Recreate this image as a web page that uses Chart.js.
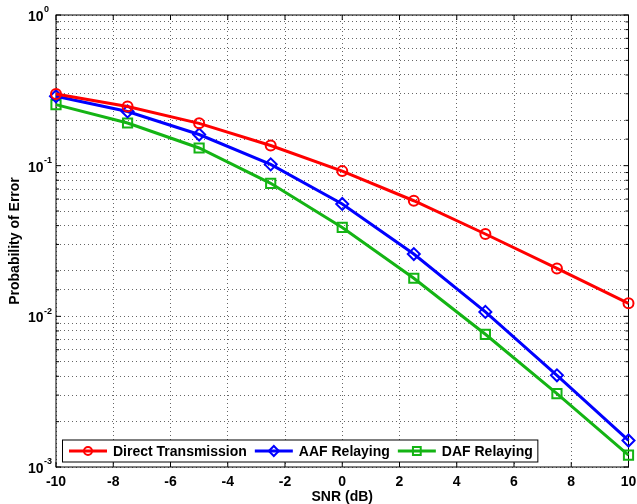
<!DOCTYPE html>
<html>
<head>
<meta charset="utf-8">
<script src="https://cdn.jsdelivr.net/npm/chart.js@4.4.1/dist/chart.umd.min.js"></script>
<style>
    html, body { margin: 0; padding: 0; background: #fff; }
    canvas { display: block; }
</style>
</head>
<body>
<canvas id="myChart" width="637" height="504"></canvas>
<script>
/* data */
const snr = [-10, -7.5, -5, -2.5, 0, 2.5, 5, 7.5, 10];
const directTransmission = [0.299, 0.247, 0.191, 0.136, 0.092, 0.0585, 0.0352, 0.0208, 0.0122];
const aafRelaying = [0.289, 0.229, 0.161, 0.102, 0.0557, 0.0259, 0.0107, 0.00406, 0.0015];
const dafRelaying = [0.254, 0.192, 0.131, 0.0764, 0.0389, 0.0179, 0.0076, 0.00307, 0.0012];
const seriesNames = ["Direct Transmission", "AAF Relaying", "DAF Relaying"];
const xTicks = [-10, -8, -6, -4, -2, 0, 2, 4, 6, 8, 10];
const yDecades = [0.001, 0.01, 0.1, 1];
const yDecadeExponents = ["-3", "-2", "-1", "0"];

const FONT = '"Liberation Sans", Arial, Helvetica, sans-serif';
Chart.defaults.font.family = FONT;
Chart.defaults.color = "#000";

const toPoints = (values) => values.map((v, i) => ({ x: snr[i], y: v }));

const series = (label, values, color, style, radius) => ({
    label: label,
    data: toPoints(values),
    borderColor: color,
    backgroundColor: "rgba(255,255,255,0)",
    borderWidth: 3,
    pointStyle: style,
    pointRadius: radius,
    pointBorderWidth: 2,
    pointBackgroundColor: "rgba(255,255,255,0)",
    pointBorderColor: color,
    tension: 0,
    clip: false,
});

/* matlab like box, inner ticks and y labels with exponents */
const axesBox = {
    id: "axesBox",
    beforeDatasetsDraw(chart) {
        const ctx = chart.ctx;
        const area = chart.chartArea;
        const xs = chart.scales.x;
        const ys = chart.scales.y;
        ctx.save();
        ctx.strokeStyle = "#000";
        ctx.lineWidth = 1;
        ctx.strokeRect(area.left, area.top, area.right - area.left, area.bottom - area.top);

        ctx.beginPath();
        xTicks.forEach((t) => {
            const px = xs.getPixelForValue(t);
            ctx.moveTo(px, area.bottom);
            ctx.lineTo(px, area.bottom - 5);
            ctx.moveTo(px, area.top);
            ctx.lineTo(px, area.top + 5);
        });
        ys.ticks.forEach((t) => {
            const py = ys.getPixelForValue(t.value);
            const len = yDecades.includes(t.value) ? 5 : 3;
            ctx.moveTo(area.left, py);
            ctx.lineTo(area.left + len, py);
            ctx.moveTo(area.right, py);
            ctx.lineTo(area.right - len, py);
        });
        ctx.stroke();

        ctx.fillStyle = "#000";
        ctx.textBaseline = "middle";
        ctx.textAlign = "left";
        yDecades.forEach((d, i) => {
            const py = ys.getPixelForValue(d);
            ctx.font = "bold 14px " + FONT;
            const w = ctx.measureText("10").width;
            const x0 = area.left - 28;
            ctx.fillText("10", x0, py + 2);
            ctx.font = "bold 9px " + FONT;
            ctx.fillText(yDecadeExponents[i], x0 + w + 0.5, py - 5);
        });
        ctx.restore();
    },
    afterDraw(chart) {
        const ctx = chart.ctx;
        const area = chart.chartArea;
        const datasets = chart.data.datasets;
        ctx.save();
        ctx.font = "bold 14px " + FONT;

        const boxLeft = area.left + 6.5;
        const boxTop = area.bottom - 27;
        const boxH = 22;
        let x = boxLeft + 6.5;
        const items = datasets.map((ds) => {
            const item = { ds: ds, x: x };
            x += 44 + ctx.measureText(ds.label).width + 8;
            return item;
        });
        const boxRight = x - 8 + 5;

        ctx.fillStyle = "#fff";
        ctx.fillRect(boxLeft, boxTop, boxRight - boxLeft, boxH);
        ctx.strokeStyle = "#000";
        ctx.lineWidth = 1;
        ctx.strokeRect(boxLeft, boxTop, boxRight - boxLeft, boxH);

        const cy = boxTop + boxH / 2;
        items.forEach((item) => {
            const ds = item.ds;
            ctx.strokeStyle = ds.borderColor;
            ctx.lineWidth = 3;
            ctx.beginPath();
            ctx.moveTo(item.x, cy);
            ctx.lineTo(item.x + 38, cy);
            ctx.stroke();

            ctx.fillStyle = "rgba(255,255,255,0)";
            ctx.lineWidth = 2;
            Chart.helpers.drawPoint(ctx, {
                pointStyle: ds.pointStyle,
                radius: ds.pointRadius - 1,
                borderWidth: 2,
                rotation: 0,
            }, item.x + 19, cy);

            ctx.fillStyle = "#000";
            ctx.textBaseline = "middle";
            ctx.textAlign = "left";
            ctx.fillText(ds.label, item.x + 44, cy + 1);
        });
        ctx.restore();
    },
};

const ctx = document.getElementById("myChart").getContext("2d");

const config = {
    type: "line",
    data: {
        datasets: [
            series(seriesNames[0], directTransmission, "#ff0000", "circle", 5),
            series(seriesNames[1], aafRelaying, "#0000ff", "rectRot", 6),
            series(seriesNames[2], dafRelaying, "#14b414", "rect", 6.5),
        ],
    },
    options: {
        responsive: false,
        animation: false,
        layout: {
            padding: { left: 0, top: 15, right: 7, bottom: 0 },
        },
        plugins: {
            legend: { display: false },
            tooltip: { enabled: false },
        },
        scales: {
            x: {
                type: "linear",
                min: -10,
                max: 10,
                afterBuildTicks: (scale) => {
                    scale.ticks = xTicks.map((v) => ({ value: v }));
                },
                afterFit: (scale) => {
                    scale.height = 37;
                    scale.paddingLeft = 0;
                    scale.paddingRight = 0;
                },
                ticks: {
                    font: { size: 14, weight: "bold" },
                    padding: 7,
                    maxRotation: 0,
                },
                grid: {
                    color: "rgba(0,0,0,0.6)",
                    lineWidth: 1,
                    drawTicks: false,
                },
                border: { display: false, dash: [1, 3] },
                title: {
                    display: true,
                    text: "SNR (dB)",
                    font: { size: 14, weight: "bold", lineHeight: 1 },
                    padding: { top: 0, bottom: 0 },
                },
            },
            y: {
                type: "logarithmic",
                min: 0.001,
                max: 1,
                ticks: { display: false },
                grid: {
                    color: "rgba(0,0,0,0.6)",
                    lineWidth: 1,
                    drawTicks: false,
                },
                border: { display: false, dash: [1, 3] },
                title: {
                    display: true,
                    text: "Probability of Error",
                    font: { size: 14, weight: "bold" },
                    padding: { top: 6.6, bottom: 32.6 },
                },
            },
        },
    },
    plugins: [axesBox],
};

const myChart = new Chart(ctx, config);
</script>
</body>
</html>
